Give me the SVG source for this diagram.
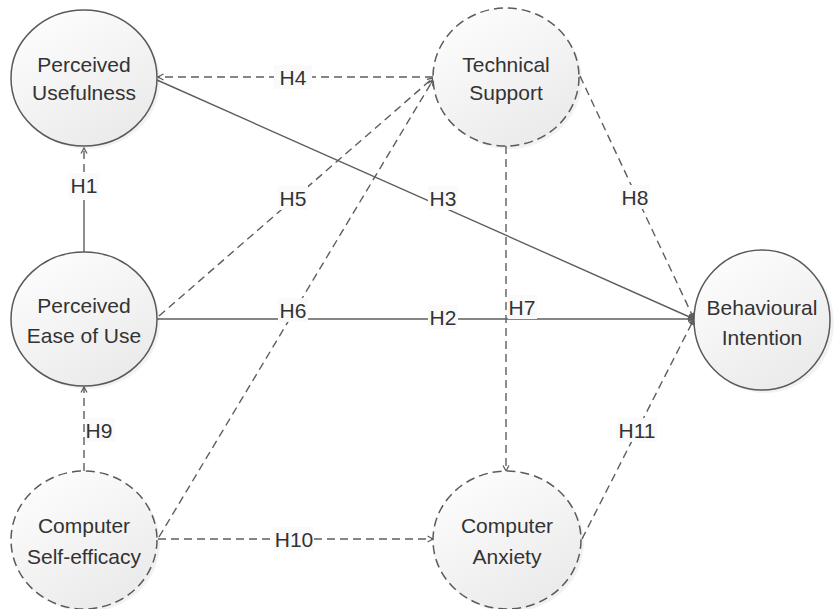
<svg xmlns="http://www.w3.org/2000/svg" width="834" height="609" viewBox="0 0 834 609">
<style>
.node{stroke:#5a5a5a;stroke-width:1.5;fill:url(#g)}
.dn{stroke-dasharray:9 5}
.shadow{fill:#000;opacity:0.05}
.t{font-family:"Liberation Sans",Arial,sans-serif;font-size:21px;fill:#333333;text-anchor:middle}
.c{stroke:#5e5e5e;stroke-width:1.4;fill:none}
.d{stroke-dasharray:8 5}
.lb{fill:#fafafa}
.lt{font-family:"Liberation Sans",Arial,sans-serif;font-size:21px;fill:#333333;text-anchor:middle}
</style>
<defs>
<linearGradient id="g" x1="0" y1="0" x2="0.6" y2="1">
<stop offset="0" stop-color="#ffffff"/>
<stop offset="1" stop-color="#ebebeb"/>
</linearGradient>
<marker id="a" markerUnits="userSpaceOnUse" markerWidth="10" markerHeight="10" refX="7" refY="4" orient="auto">
<path d="M1.5,1 L7,4 L1.5,7" fill="none" stroke="#5e5e5e" stroke-width="1.3"/>
</marker>
<marker id="f" markerUnits="userSpaceOnUse" markerWidth="10" markerHeight="10" refX="7" refY="4" orient="auto">
<path d="M1.5,1.5 L7,4 L1.5,6.5 Z" fill="#5e5e5e" stroke="#5e5e5e" stroke-width="1"/>
</marker>
</defs>
<rect width="834" height="609" fill="#ffffff"/>

<g id="connectors">
<!-- H4 -->
<line class="c d" x1="433" y1="77" x2="158" y2="77" marker-end="url(#a)"/>
<!-- H3 -->
<line class="c" x1="157" y1="80" x2="694" y2="319" marker-end="url(#f)"/>
<!-- H1 -->
<line class="c d" x1="84" y1="172" x2="84" y2="148" marker-end="url(#a)"/>
<line class="c" x1="84" y1="200" x2="84" y2="252"/>
<!-- H5 -->
<line class="c d" x1="159" y1="316" x2="433" y2="78" marker-end="url(#a)"/>
<!-- H6 -->
<line class="c d" x1="159" y1="537" x2="433" y2="80" marker-end="url(#a)"/>
<!-- H2 -->
<line class="c" x1="157" y1="319" x2="694" y2="319" marker-end="url(#f)"/>
<!-- H7 -->
<line class="c d" x1="506" y1="146" x2="506" y2="471" marker-end="url(#a)"/>
<!-- H8 -->
<line class="c d" x1="580" y1="76" x2="694" y2="319" marker-end="url(#f)"/>
<!-- H9 -->
<line class="c d" x1="84" y1="471" x2="84" y2="387" marker-end="url(#a)"/>
<!-- H10 -->
<line class="c d" x1="158" y1="539" x2="433" y2="539" marker-end="url(#a)"/>
<!-- H11 -->
<line class="c d" x1="582" y1="539" x2="694" y2="319" marker-end="url(#f)"/>

<g id="labels">
<rect class="lb" x="274" y="65" width="38" height="24"/><text class="lt" x="293" y="85">H4</text>
<rect class="lb" x="69" y="173" width="30" height="26"/><text class="lt" x="84" y="193">H1</text>
<rect class="lb" x="278" y="186" width="30" height="24"/><text class="lt" x="293" y="206">H5</text>
<rect class="lb" x="428" y="186" width="30" height="24"/><text class="lt" x="443" y="206">H3</text>
<rect class="lb" x="620" y="185" width="30" height="24"/><text class="lt" x="635" y="205">H8</text>
<rect class="lb" x="278" y="298" width="30" height="24"/><text class="lt" x="293" y="318">H6</text>
<rect class="lb" x="428" y="305" width="30" height="24"/><text class="lt" x="443" y="325">H2</text>
<rect class="lb" x="508" y="295" width="29" height="24"/><text class="lt" x="522" y="315">H7</text>
<rect class="lb" x="85" y="418" width="30" height="24"/><text class="lt" x="99" y="438">H9</text>
<rect class="lb" x="274" y="527" width="40" height="24"/><text class="lt" x="294" y="547">H10</text>
<rect class="lb" x="617" y="418" width="40" height="24"/><text class="lt" x="637" y="438">H11</text>
</g>
</g>

<g id="perceived-usefulness">
<ellipse class="shadow" cx="87" cy="81" rx="73" ry="68"/>
<ellipse class="node" cx="84" cy="78" rx="73" ry="68"/>
<text class="t" x="84" y="72">Perceived</text>
<text class="t" x="84" y="100">Usefulness</text>
</g>

<g id="technical-support">
<ellipse class="shadow" cx="509" cy="80" rx="73" ry="69"/>
<ellipse class="node dn" cx="506" cy="77" rx="73" ry="69"/>
<text class="t" x="506" y="72">Technical</text>
<text class="t" x="506" y="100">Support</text>
</g>

<g id="perceived-ease-of-use">
<ellipse class="shadow" cx="87" cy="322" rx="73" ry="67"/>
<ellipse class="node" cx="84" cy="319" rx="73" ry="67"/>
<text class="t" x="84" y="313">Perceived</text>
<text class="t" x="84" y="343">Ease of Use</text>
</g>

<g id="behavioural-intention">
<ellipse class="shadow" cx="765" cy="323" rx="69" ry="70"/>
<ellipse class="node" cx="762" cy="320" rx="68" ry="70"/>
<text class="t" x="762" y="315">Behavioural</text>
<text class="t" x="762" y="345">Intention</text>
</g>

<g id="computer-self-efficacy">
<ellipse class="shadow" cx="87" cy="543" rx="73" ry="69"/>
<ellipse class="node dn" cx="84" cy="540" rx="73" ry="69"/>
<text class="t" x="84" y="533">Computer</text>
<text class="t" x="84" y="564">Self-efficacy</text>
</g>

<g id="computer-anxiety">
<ellipse class="shadow" cx="510" cy="543" rx="74" ry="69"/>
<ellipse class="node dn" cx="507" cy="540" rx="74" ry="69"/>
<text class="t" x="507" y="533">Computer</text>
<text class="t" x="507" y="564">Anxiety</text>
</g>
</svg>
